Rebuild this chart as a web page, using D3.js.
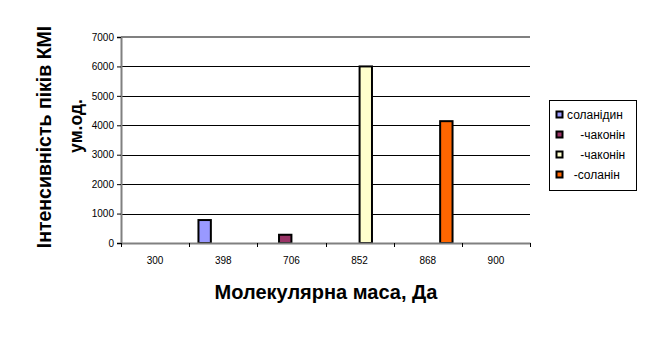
<!DOCTYPE html>
<html>
<head>
<meta charset="utf-8">
<script src="https://cdn.jsdelivr.net/npm/d3@7/dist/d3.min.js"></script>
<style>
  body { margin: 0; background: #fff; }
  svg { font-family: 'Liberation Sans', Arial, sans-serif; }
  .legend text { white-space: pre; }
</style>
</head>
<body>
<svg id="chart" width="650" height="337"></svg>
<script>
// categories on x axis (molecular mass)
const categories = ['300', '398', '706', '852', '868', '900'];
const seriesNames = ['соланідин', '    -чаконін', '    -чаконін', '  -соланін'];
const seriesColors = ['#9999ff', '#993366', '#ffffcc', '#ff6600'];
// one row per series, one value per category
const seriesValues = [
	[0, 780, 0, 0, 0, 0],
	[0, 0, 280, 0, 0, 0],
	[0, 0, 0, 6000, 0, 0],
	[0, 0, 0, 0, 4140, 0]
];
const yTicks = [0, 1000, 2000, 3000, 4000, 5000, 6000, 7000];

const svg = d3.select('#chart');
const plot = { left: 121, right: 530, top: 37, bottom: 243 };

const x = d3.scaleBand()
	.domain(categories)
	.range([plot.left, plot.right])
	.paddingInner(0)
	.paddingOuter(0);

// clustered bars, gap width 150%
const barW = x.bandwidth() / (seriesNames.length + 1.5);
const xs = d3.scaleBand()
	.domain(d3.range(seriesNames.length))
	.range([barW * 0.75, x.bandwidth() - barW * 0.75]);

const y = d3.scaleLinear().domain([0, 7000]).range([plot.bottom, plot.top]);

// gridlines
svg.append('g')
	.selectAll('line')
	.data(yTicks.filter(t => t > 0 && t < 7000))
	.join('line')
	.attr('x1', plot.left)
	.attr('x2', plot.right)
	.attr('y1', d => Math.round(y(d)) + 0.5)
	.attr('y2', d => Math.round(y(d)) + 0.5)
	.attr('stroke', '#000')
	.attr('stroke-width', 1);

// top border of plot area
svg.append('line')
	.attr('x1', plot.left).attr('x2', plot.right)
	.attr('y1', plot.top).attr('y2', plot.top)
	.attr('stroke', '#808080').attr('stroke-width', 2);

// bars
const flat = [];
seriesValues.forEach((vals, si) => {
	vals.forEach((v, ci) => {
		if (v > 0) flat.push({ si, cat: categories[ci], v });
	});
});
svg.append('g')
	.selectAll('rect')
	.data(flat)
	.join('rect')
	.attr('x', d => x(d.cat) + xs(d.si))
	.attr('y', d => y(d.v))
	.attr('width', xs.bandwidth())
	.attr('height', d => plot.bottom - y(d.v))
	.attr('fill', d => seriesColors[d.si])
	.attr('stroke', '#000')
	.attr('stroke-width', 2);

// y axis
const yAxis = svg.append('g')
	.attr('transform', `translate(${plot.left},0)`)
	.call(d3.axisLeft(y).tickValues(yTicks).tickFormat(d3.format('d')).tickSize(4).tickPadding(3));
yAxis.select('.domain').attr('stroke', '#808080').attr('stroke-width', 2);
yAxis.selectAll('.tick line').attr('stroke', '#000');
yAxis.selectAll('text').attr('font-size', 10).attr('font-family', 'Liberation Sans, Arial, sans-serif');

// x axis
const xAxis = svg.append('g')
	.attr('transform', `translate(0,${plot.bottom})`)
	.call(d3.axisBottom(x).tickSize(0).tickPadding(14));
xAxis.select('.domain').attr('stroke', '#808080').attr('stroke-width', 2);
xAxis.selectAll('text').attr('font-size', 10).attr('font-family', 'Liberation Sans, Arial, sans-serif');
// category separators
svg.append('g')
	.selectAll('line')
	.data(categories.concat(['end']))
	.join('line')
	.attr('x1', (d, i) => Math.round(plot.left + i * x.bandwidth()) + 0.5)
	.attr('x2', (d, i) => Math.round(plot.left + i * x.bandwidth()) + 0.5)
	.attr('y1', plot.bottom)
	.attr('y2', plot.bottom + 4)
	.attr('stroke', '#000');

// axis titles
svg.append('text')
	.attr('x', 326)
	.attr('y', 299)
	.attr('text-anchor', 'middle')
	.attr('font-size', 20)
	.attr('font-weight', 'bold')
	.text('Молекулярна маса, Да');

svg.append('text')
	.attr('transform', 'translate(51,137) rotate(-90)')
	.attr('text-anchor', 'middle')
	.attr('font-size', 19.5)
	.attr('font-weight', 'bold')
	.text('Інтенсивність піків КМІ');
svg.append('text')
	.attr('transform', 'translate(82,126) rotate(-90)')
	.attr('text-anchor', 'middle')
	.attr('font-size', 17.5)
	.attr('font-weight', 'bold')
	.text('ум.од.');

// legend
const legend = svg.append('g').attr('class', 'legend');
legend.append('rect')
	.attr('x', 549.5).attr('y', 100.5)
	.attr('width', 87).attr('height', 90)
	.attr('fill', '#fff').attr('stroke', '#000');
const items = legend.selectAll('g.item')
	.data(seriesNames)
	.join('g')
	.attr('class', 'item')
	.attr('transform', (d, i) => `translate(556,${115 + i * 20})`);
items.append('rect')
	.attr('x', 0.5).attr('y', -3.5)
	.attr('width', 6).attr('height', 6)
	.attr('fill', (d, i) => seriesColors[i])
	.attr('stroke', '#000').attr('stroke-width', 2);
items.append('text')
	.attr('x', 11)
	.attr('y', 4)
	.attr('font-size', 12)
	.attr('xml:space', 'preserve')
	.text(d => d);
</script>
</body>
</html>
